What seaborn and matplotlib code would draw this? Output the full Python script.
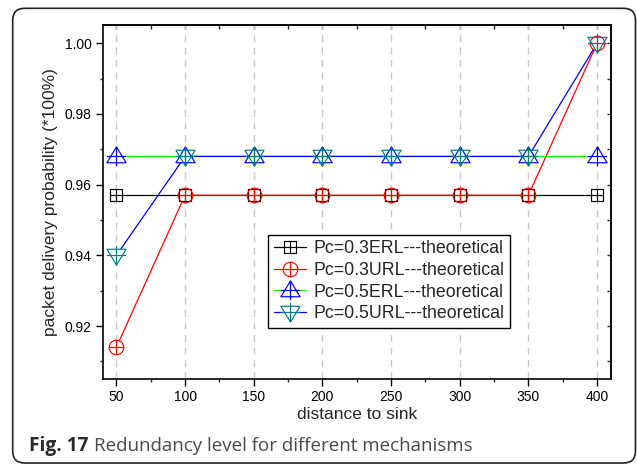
import numpy as np
import matplotlib
matplotlib.use("Agg")
import matplotlib.pyplot as plt
import seaborn as sns
from matplotlib.path import Path
from matplotlib.lines import Line2D
from matplotlib.patches import FancyBboxPatch
from matplotlib.transforms import IdentityTransform
from matplotlib.ticker import MultipleLocator, FixedLocator

# ---------------- data ----------------
distance = [50, 100, 150, 200, 250, 300, 350, 400]
erl_03 = [0.957, 0.957, 0.957, 0.957, 0.957, 0.957, 0.957, 0.957]
url_03 = [0.914, 0.957, 0.957, 0.957, 0.957, 0.957, 0.957, 1.000]
erl_05 = [0.968, 0.968, 0.968, 0.968, 0.968, 0.968, 0.968, 0.968]
url_05 = [0.940, 0.968, 0.968, 0.968, 0.968, 0.968, 0.968, 1.000]
series_labels = ["Pc=0.3ERL---theoretical", "Pc=0.3URL---theoretical",
                 "Pc=0.5ERL---theoretical", "Pc=0.5URL---theoretical"]
x_ticks = [50, 100, 150, 200, 250, 300, 350, 400]
y_ticks = [0.92, 0.94, 0.96, 0.98, 1.00]

# ---------------- marker shapes ----------------
def compound(*paths):
    return Path.make_compound_path(*paths)

def seg(p0, p1):
    return Path([p0, p1], [Path.MOVETO, Path.LINETO])

sq = Path([(-1, -1), (1, -1), (1, 1), (-1, 1), (-1, -1)],
          [Path.MOVETO, Path.LINETO, Path.LINETO, Path.LINETO, Path.CLOSEPOLY])
box_plus = compound(sq, seg((-1, 0), (1, 0)), seg((0, -1), (0, 1)))
circ_plus = compound(Path.unit_circle(), seg((-1, 0), (1, 0)), seg((0, -1), (0, 1)))
tri_up = Path([(0, 1), (-1, -0.65), (1, -0.65), (0, 1)],
              [Path.MOVETO, Path.LINETO, Path.LINETO, Path.CLOSEPOLY])
tri_up_plus = compound(tri_up, seg((-1, 0), (1, 0)), seg((0, 1), (0, -1)))
tri_dn = Path([(0, -1), (-1, 0.65), (1, 0.65), (0, -1)],
              [Path.MOVETO, Path.LINETO, Path.LINETO, Path.CLOSEPOLY])
tri_dn_plus = compound(tri_dn, seg((-1, 0), (1, 0)), seg((0, 1), (0, -1)))

styles = [
    dict(line="#000000", mk="#000000", marker=box_plus, ms=9.0),
    dict(line="#ff0000", mk="#ff0000", marker=circ_plus, ms=10.5),
    dict(line="#00ff00", mk="#0000ff", marker=tri_up_plus, ms=13.8),
    dict(line="#0000ff", mk="#008080", marker=tri_dn_plus, ms=13.8),
]
values = [erl_03, url_03, erl_05, url_05]

# ---------------- figure ----------------
sns.set_style("ticks")
plt.rcParams["font.family"] = ["Liberation Sans", "DejaVu Sans"]

fig = plt.figure(figsize=(6.37, 4.65), dpi=100)
ax = fig.add_axes([0.1612, 0.1849, 0.7977, 0.7607])

# lines
for vals, st in zip(values, styles):
    sns.lineplot(x=distance, y=vals, ax=ax, color=st["line"], linewidth=0.9,
                 errorbar=None, zorder=2, legend=False)
# white marker interiors (create gaps in lines)
for vals, st in zip(values, styles):
    sns.lineplot(x=distance, y=vals, ax=ax, linestyle="", marker=st["marker"],
                 markersize=st["ms"], markerfacecolor="white",
                 markeredgecolor="none", markeredgewidth=0,
                 errorbar=None, zorder=3, legend=False)
# marker outlines
for vals, st in zip(values, styles):
    sns.lineplot(x=distance, y=vals, ax=ax, linestyle="", marker=st["marker"],
                 markersize=st["ms"], markerfacecolor="none",
                 markeredgecolor=st["mk"], markeredgewidth=0.85,
                 errorbar=None, zorder=4, legend=False)

ax.set_xlim(40, 410)
ax.set_ylim(0.905, 1.0051)
ax.xaxis.set_major_locator(FixedLocator(x_ticks))
ax.xaxis.set_minor_locator(MultipleLocator(25))
ax.yaxis.set_major_locator(FixedLocator(y_ticks))
ax.yaxis.set_minor_locator(MultipleLocator(0.01))
ax.set_yticklabels([f"{v:.2f}" for v in y_ticks])
ax.set_xticklabels([str(v) for v in x_ticks])

ax.xaxis.grid(True, which="major", linestyle=(0, (5, 4)), color="#c8c8c8", linewidth=1.0)
ax.yaxis.grid(False)
ax.set_axisbelow(True)

for sp in ax.spines.values():
    sp.set_linewidth(1.2)
    sp.set_color("black")
    sp.set_visible(True)

ax.tick_params(axis="both", which="major", direction="out", length=4.8, width=1.0,
               labelsize=10, pad=3, colors="black")
ax.tick_params(axis="both", which="minor", direction="out", length=2.5, width=1.0)

# top / right inward ticks
secx = ax.secondary_xaxis("top")
secx.xaxis.set_major_locator(FixedLocator(x_ticks))
secx.xaxis.set_minor_locator(MultipleLocator(25))
secx.tick_params(axis="x", which="both", direction="in", length=3, width=1.0, labeltop=False)
secx.spines["top"].set_linewidth(1.2)
secy = ax.secondary_yaxis("right")
secy.yaxis.set_major_locator(FixedLocator(y_ticks))
secy.yaxis.set_minor_locator(MultipleLocator(0.01))
secy.tick_params(axis="y", which="both", direction="in", length=3, width=1.0, labelright=False)
secy.spines["right"].set_linewidth(1.2)

ax.set_xlabel("distance to sink", fontsize=12.5, labelpad=2)
ax.set_ylabel("packet delivery probability (*100%)", fontsize=12.5)
ax.yaxis.set_label_coords(-0.087, 0.5)

# legend
handles = [Line2D([], [], color=st["line"], linewidth=0.9, marker=st["marker"],
                  markersize=st["ms"], markerfacecolor="white",
                  markeredgecolor=st["mk"], markeredgewidth=0.85)
           for st in styles]
leg = ax.legend(handles, series_labels, loc="upper left", bbox_to_anchor=(0.326, 0.408),
                borderaxespad=0, fontsize=12.75, frameon=True, fancybox=False,
                framealpha=1, edgecolor="black", handlelength=1.85, handletextpad=0.4,
                labelspacing=0.27, borderpad=0.3)
leg.get_frame().set_linewidth(1.0)

# rounded outer frame
frame = FancyBboxPatch((12.7, 2.0), 622.8, 454.7,
                       boxstyle="round,pad=0,rounding_size=12",
                       transform=IdentityTransform(), facecolor="none",
                       edgecolor="#222222", linewidth=1.2)
fig.patches.append(frame)

# caption
t1 = fig.text(29 / 637, 14 / 465, "Fig. 17", fontsize=13.8, fontweight="bold",
              family=["Open Sans", "DejaVu Sans"], color="#2a2a2a", va="baseline")
fig.canvas.draw()
bb = t1.get_window_extent()
fig.text((bb.x1 + 5) / 637, 14 / 465, "Redundancy level for different mechanisms",
         fontsize=13.5, family=["Open Sans", "DejaVu Sans"], color="#4a4a4a",
         va="baseline")

fig.savefig("out.png", dpi=100)
